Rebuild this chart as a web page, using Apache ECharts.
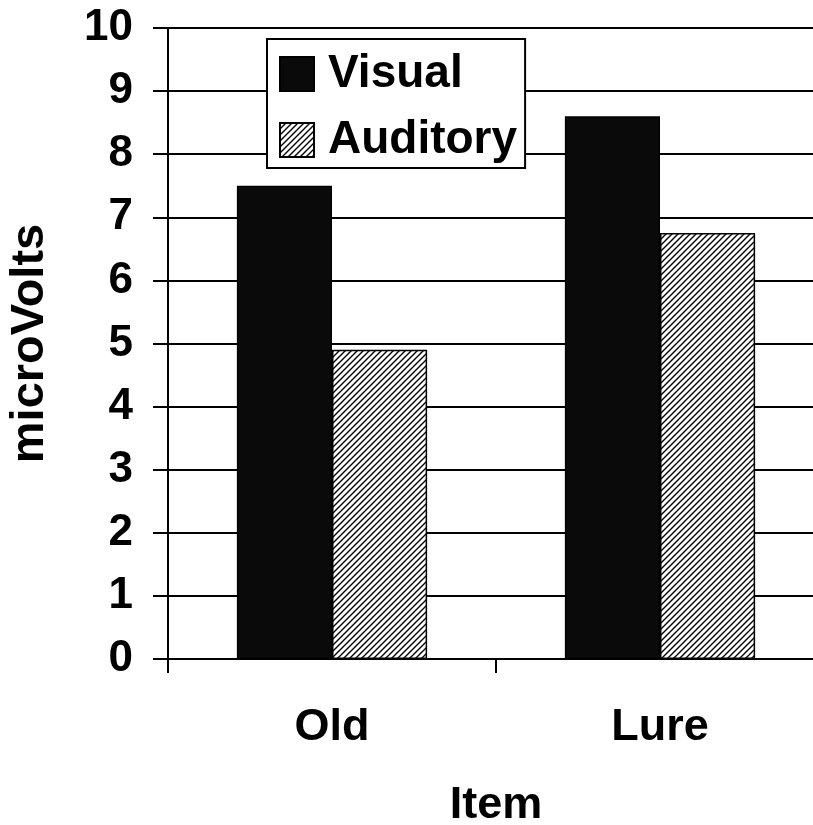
<!DOCTYPE html>
<html>
<head>
<meta charset="utf-8">
<script src="https://cdn.jsdelivr.net/npm/echarts@6/dist/echarts.min.js"></script>
<style>
  html, body { margin: 0; padding: 0; background: #fff; }
  #chart { width: 813px; height: 825px; }
</style>
</head>
<body>
<div id="chart"></div>
<script>
var categories = ['Old', 'Lure'];
var visualValues = [7.5, 8.6];
var auditoryValues = [4.9, 6.75];
var yTicks = [0, 10, 1]; // min, max, interval

// diagonal hatch for the Auditory bars
function makeHatch() {
    var c = document.createElement('canvas');
    c.width = 6;
    c.height = 6;
    var ctx = c.getContext('2d');
    ctx.fillStyle = '#fff';
    ctx.fillRect(0, 0, 6, 6);
    ctx.strokeStyle = '#000';
    ctx.lineWidth = 1.4;
    ctx.beginPath();
    ctx.moveTo(-1, 7); ctx.lineTo(7, -1);
    ctx.moveTo(-4, 4); ctx.lineTo(4, -4);
    ctx.moveTo(2, 10); ctx.lineTo(10, 2);
    ctx.stroke();
    return c;
}

var font = 'Liberation Sans, Arial, sans-serif';
var chart = echarts.init(document.getElementById('chart'));

chart.setOption({
    backgroundColor: '#fff',
    animation: false,
    // plot runs a little past the right edge of the page, like the scan
    grid: { left: 168, width: 656, top: 28, bottom: 166, containLabel: false, outerBoundsMode: 'none' },
    legend: {
        left: 267,
        top: 39,
        orient: 'vertical',
        backgroundColor: '#fff',
        borderColor: '#000',
        borderWidth: 2,
        borderRadius: 0,
        padding: [11, 8, 4, 12],
        itemWidth: 34,
        itemHeight: 34,
        itemGap: 18,
        icon: 'rect',
        textStyle: {
            fontFamily: font,
            fontWeight: 'bold',
            fontSize: 46,
            lineHeight: 48,
            color: '#000',
            padding: [0, 0, 0, 9]
        },
        data: ['Visual', 'Auditory']
    },
    xAxis: {
        type: 'category',
        data: categories,
        name: 'Item',
        nameLocation: 'middle',
        nameGap: 124,
        nameTextStyle: { fontFamily: font, fontWeight: 'bold', fontSize: 45, color: '#000' },
        axisLine: { lineStyle: { color: '#000', width: 2 } },
        axisTick: { show: true, length: 14, lineStyle: { color: '#000', width: 2 } },
        axisLabel: { margin: 46, fontFamily: font, fontWeight: 'bold', fontSize: 45, color: '#000' }
    },
    yAxis: {
        type: 'value',
        min: yTicks[0],
        max: yTicks[1],
        interval: yTicks[2],
        name: 'microVolts',
        nameLocation: 'middle',
        nameGap: 114,
        nameTextStyle: { fontFamily: font, fontWeight: 'bold', fontSize: 47, color: '#000' },
        axisLine: { show: true, lineStyle: { color: '#000', width: 2 } },
        axisTick: { show: true, length: 15, lineStyle: { color: '#000', width: 2 } },
        axisLabel: { margin: 35, fontFamily: font, fontWeight: 'bold', fontSize: 44, color: '#000' },
        splitLine: { show: true, lineStyle: { color: '#000', width: 2 } }
    },
    series: [
        {
            name: 'Visual',
            type: 'bar',
            data: visualValues,
            barGap: '0%',
            barCategoryGap: '42%',
            itemStyle: { color: '#0a0a0a', borderColor: '#000', borderWidth: 1.5 }
        },
        {
            name: 'Auditory',
            type: 'bar',
            data: auditoryValues,
            barGap: '0%',
            barCategoryGap: '42%',
            itemStyle: {
                color: { image: makeHatch(), repeat: 'repeat' },
                borderColor: '#000',
                borderWidth: 1.5
            }
        }
    ]
});
</script>
</body>
</html>
